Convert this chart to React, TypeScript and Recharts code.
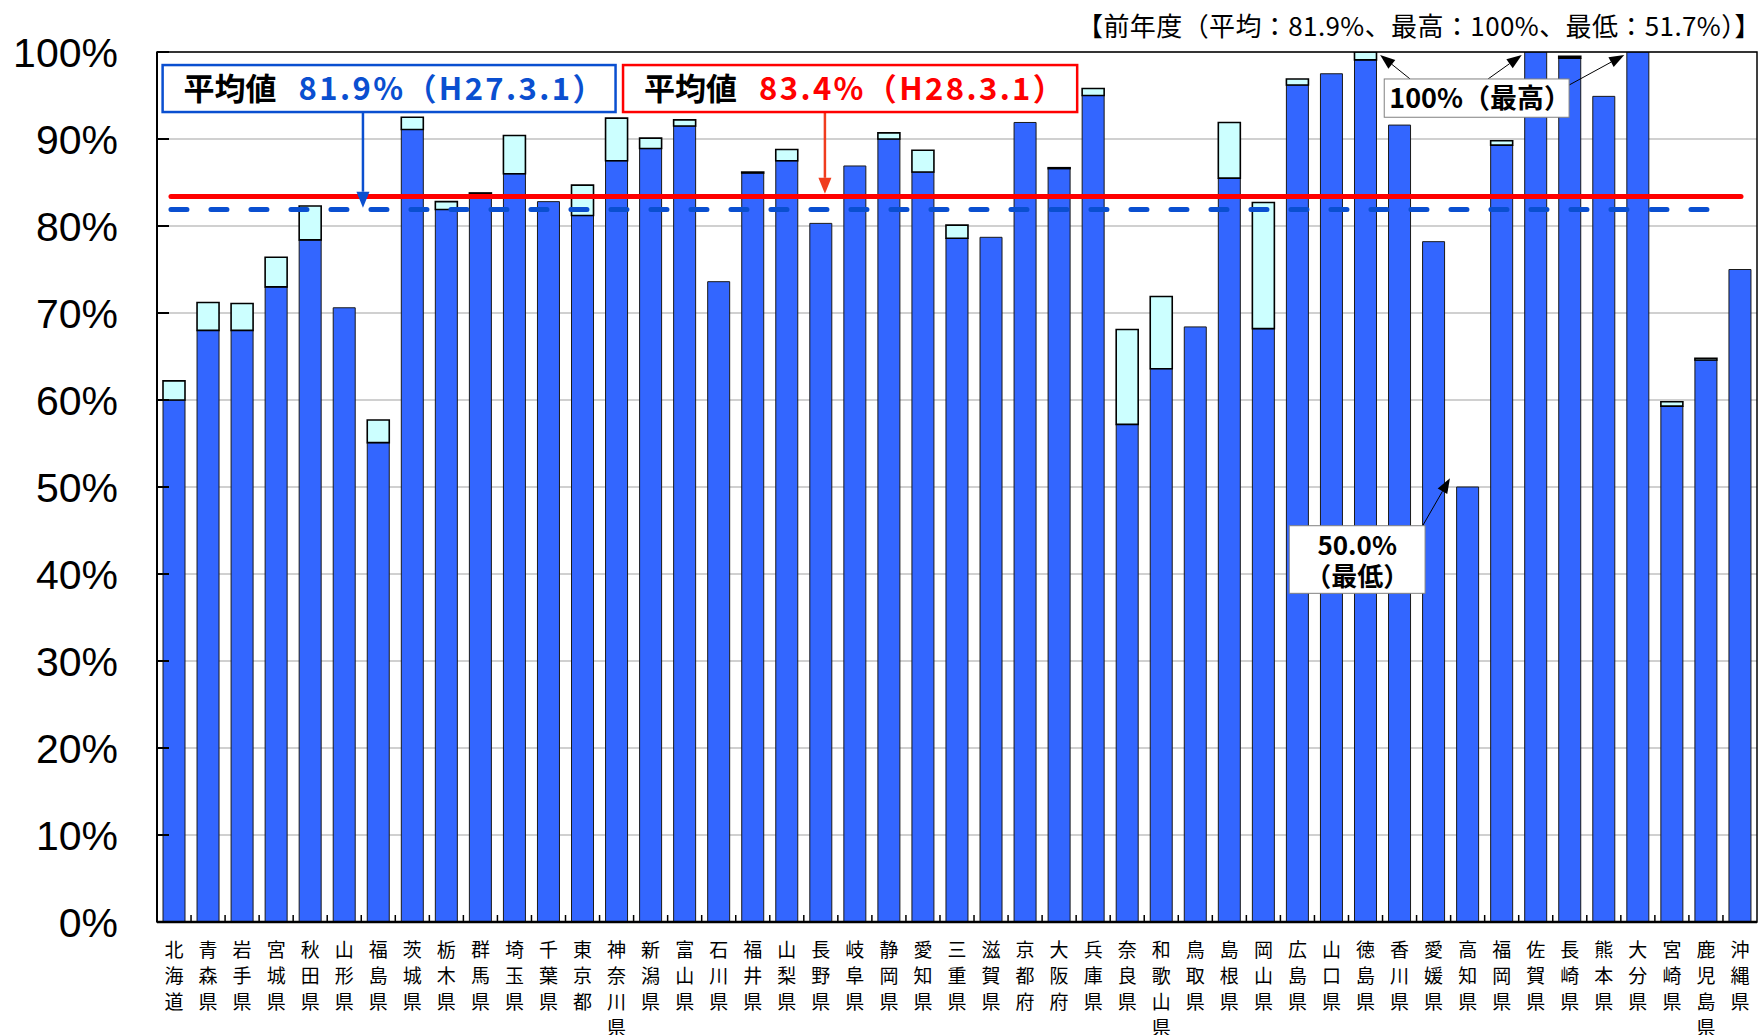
import React from 'react';
import { BarChart, Bar, XAxis, YAxis, CartesianGrid, ReferenceLine } from 'recharts';

const prefectures = [
  '北海道', '青森県', '岩手県', '宮城県', '秋田県', '山形県', '福島県', '茨城県',
  '栃木県', '群馬県', '埼玉県', '千葉県', '東京都', '神奈川県', '新潟県', '富山県',
  '石川県', '福井県', '山梨県', '長野県', '岐阜県', '静岡県', '愛知県', '三重県',
  '滋賀県', '京都府', '大阪府', '兵庫県', '奈良県', '和歌山県', '鳥取県', '島根県',
  '岡山県', '広島県', '山口県', '徳島県', '香川県', '愛媛県', '高知県', '福岡県',
  '佐賀県', '長崎県', '熊本県', '大分県', '宮崎県', '鹿児島県', '沖縄県',
];

// blue part of each bar (%)
const blueValues = [
  60.0, 68.0, 68.0, 73.0, 78.4, 70.6, 55.1, 91.1,
  81.9, 83.7, 86.0, 82.8, 81.2, 87.5, 88.9, 91.5,
  73.6, 86.1, 87.5, 80.3, 86.9, 90.0, 86.2, 78.6,
  78.7, 91.9, 86.6, 95.0, 57.2, 63.6, 68.4, 85.5,
  68.2, 96.2, 97.5, 99.1, 91.6, 78.2, 50.0, 89.3,
  100, 99.3, 94.9, 100, 59.3, 64.6, 75.0,
];

// top of the light cyan part (same as blue where there is none)
const topValues = [
  62.2, 71.2, 71.1, 76.4, 82.3, 70.6, 57.7, 92.5,
  82.8, 83.8, 90.4, 82.8, 84.7, 92.4, 90.1, 92.2,
  73.6, 86.2, 88.8, 80.3, 86.9, 90.7, 88.7, 80.1,
  78.7, 91.9, 86.7, 95.8, 68.1, 71.9, 68.4, 91.9,
  82.7, 96.9, 97.5, 100, 91.6, 78.2, 50.0, 89.8,
  100, 99.5, 94.9, 100, 59.8, 64.8, 75.0,
];

const yTicks = [0, 10, 20, 30, 40, 50, 60, 70, 80, 90, 100];
const avgPrev = 81.9;
const avgNow = 83.4;

const data = prefectures.map((name, i) => ({
  name,
  blue: blueValues[i],
  extra: Math.round((topValues[i] - blueValues[i]) * 10) / 10,
}));

const N = prefectures.length;
const W = 1758;
const H = 1035;
const MARGIN = { top: 52, right: 1, bottom: 3, left: 0 };
const Y_AXIS_W = 157;
const X_AXIS_H = 110;
const PLOT_W = W - MARGIN.left - MARGIN.right - Y_AXIS_W;
const BAND = PLOT_W / N;
const JP = '"Noto Sans CJK JP", "Noto Sans", sans-serif';

function YTick(props: any) {
  const { y, payload } = props;
  const ax = MARGIN.left + Y_AXIS_W;
  return (
    <g>
      <line x1={ax} x2={ax + 12} y1={y} y2={y} stroke="#000" strokeWidth={2} />
      <text
        x={ax - 39}
        y={y}
        dy="0.36em"
        textAnchor="end"
        fontFamily='"Liberation Sans", Arial, sans-serif'
        fontSize={41}
        fill="#000"
      >
        {payload.value}%
      </text>
    </g>
  );
}

function XTick(props: any) {
  const { x, y, payload, index } = props;
  const chars = String(payload.value).split('');
  return (
    <g>
      {index < N - 1 && (
        <line x1={x + BAND / 2} x2={x + BAND / 2} y1={y} y2={y - 7} stroke="#000" strokeWidth={1.5} />
      )}
      <text x={x} y={y + 35} textAnchor="middle" fontFamily={JP} fontSize={19} fill="#000">
        {chars.map((c, i) => (
          <tspan key={i} x={x} dy={i === 0 ? 0 : 26}>
            {c}
          </tspan>
        ))}
      </text>
    </g>
  );
}

// Annotation placed in chart units: u = position across the categories (0 = left edge,
// N = right edge), v = percent. Pixels come from the chart's own scales via a segment
// spanning the first and last category centres.
type Draw = (x1: number, y1: number, x2: number, y2: number) => React.ReactNode;
function annot(key: string, u1: number, v1: number, u2: number, v2: number, draw: Draw) {
  return (
    <ReferenceLine
      key={key}
      segment={[{ x: prefectures[0], y: v1 }, { x: prefectures[N - 1], y: v2 }]}
      ifOverflow="visible"
      shape={(p: any) => {
        const pitch = (p.x2 - p.x1) / (N - 1);
        const left = p.x1 - pitch / 2;
        return draw(left + u1 * pitch, p.y1, left + u2 * pitch, p.y2);
      }}
    />
  );
}

const plain = (color: string, width: number, dash?: string): Draw => (x1, y1, x2, y2) => (
  <line x1={x1} y1={y1} x2={x2} y2={y2} stroke={color} strokeWidth={width} strokeDasharray={dash} strokeLinecap="round" />
);

const arrow = (color: string, width: number, headW: number, headL: number): Draw => (x1, y1, x2, y2) => {
  const a = Math.atan2(y2 - y1, x2 - x1);
  const bx = x2 - headL * Math.cos(a);
  const by = y2 - headL * Math.sin(a);
  const nx = -Math.sin(a) * (headW / 2);
  const ny = Math.cos(a) * (headW / 2);
  return (
    <g>
      <line x1={x1} y1={y1} x2={bx} y2={by} stroke={color} strokeWidth={width} />
      <polygon points={`${x2},${y2} ${bx + nx},${by + ny} ${bx - nx},${by - ny}`} fill={color} />
    </g>
  );
};

type Rect = { x: number; y: number; w: number; h: number };
const box = (border: string, bw: number, fill: string, content?: (r: Rect) => React.ReactNode): Draw =>
  (x1, y1, x2, y2) => {
    const r = { x: Math.min(x1, x2), y: Math.min(y1, y2), w: Math.abs(x2 - x1), h: Math.abs(y2 - y1) };
    return (
      <g>
        <rect x={r.x} y={r.y} width={r.w} height={r.h} fill={fill} stroke={border} strokeWidth={bw} />
        {content && content(r)}
      </g>
    );
  };

const avgText = (color: string, value: string) => (r: Rect) => (
  <text x={r.x + 21} y={r.y + r.h / 2} dy="0.36em" fontFamily={JP} fontWeight="bold" fontSize={31}>
    <tspan fill="#000">平均値</tspan>
    <tspan fill={color} dx={22} letterSpacing={2.4}>{value}</tspan>
  </text>
);

const maxText = (r: Rect) => (
  <text x={r.x + 5} y={r.y + r.h / 2} dy="0.36em" fontFamily={JP} fontWeight="bold" fontSize={27} fill="#000">
    100%（最高）
  </text>
);

const minText = (r: Rect) => {
  const cx = r.x + r.w / 2;
  return (
    <text textAnchor="middle" fontFamily={JP} fontWeight="bold" fontSize={26} fill="#000">
      <tspan x={cx} y={r.y + 29}>50.0%</tspan>
      <tspan x={cx} y={r.y + 60}>（最低）</tspan>
    </text>
  );
};

const BLUE_LINE = '#0a4fd0';

export default function App() {
  return (
    <div style={{ position: 'relative', width: W, height: H, background: '#fff' }}>
      <style>{'body{margin:0;}'}</style>
      <div
        style={{
          position: 'absolute',
          top: 5,
          right: -3,
          fontFamily: JP,
          fontSize: 26,
          letterSpacing: 0.4,
          color: '#000',
          whiteSpace: 'nowrap',
          lineHeight: '40px',
        }}
      >
        【前年度（平均：81.9%、最高：100%、最低：51.7%）】
      </div>
      <BarChart width={W} height={H} data={data} margin={MARGIN} barSize={22}>
        <CartesianGrid vertical={false} stroke="#c0c0c0" strokeWidth={1.5} />
        <XAxis
          dataKey="name"
          interval={0}
          height={X_AXIS_H}
          tickSize={0}
          tickMargin={0}
          tickLine={false}
          axisLine={{ stroke: '#000', strokeWidth: 2.5 }}
          tick={<XTick />}
        />
        <YAxis
          domain={[0, 100]}
          ticks={yTicks}
          width={Y_AXIS_W}
          tickSize={0}
          tickMargin={0}
          tickLine={false}
          axisLine={{ stroke: '#000', strokeWidth: 2 }}
          tick={<YTick />}
          allowDataOverflow
        />
        <Bar dataKey="blue" stackId="a" fill="#3366ff" stroke="#1a1a1a" strokeWidth={1} isAnimationActive={false} />
        <Bar dataKey="extra" stackId="a" fill="#ccffff" stroke="#000" strokeWidth={1.6} isAnimationActive={false} />

        {annot('frame', 0, 100, N, 0, box('#000', 1.5, 'none'))}

        {annot('avgPrev', 0.41, avgPrev, 46.15, avgPrev, plain(BLUE_LINE, 5, '16 24'))}
        {annot('avgNow', 0.41, avgNow, 46.53, avgNow, plain('#ff0000', 5))}

        {annot('prevArrow', 6.05, 93.1, 6.05, 82.1, arrow(BLUE_LINE, 2.5, 13, 16))}
        {annot('prevBox', 0.165, 98.5, 13.47, 93.1, box(BLUE_LINE, 2.5, '#fff', avgText(BLUE_LINE, '81.9%（H27.3.1）')))}
        {annot('nowArrow', 19.62, 93.1, 19.62, 83.7, arrow('#f03c1e', 2.5, 13, 16))}
        {annot('nowBox', 13.69, 98.5, 27.03, 93.1, box('#ff0000', 2.5, '#fff', avgText('#ff0000', '83.4%（H28.3.1）')))}

        {annot('maxA1', 36.81, 96.9, 35.93, 99.66, arrow('#000', 1, 11, 15))}
        {annot('maxA2', 39.1, 96.9, 40.09, 99.66, arrow('#000', 1, 11, 15))}
        {annot('maxA3', 41.48, 96.2, 43.1, 99.66, arrow('#000', 1, 11, 15))}
        {annot('maxBox', 36.05, 96.9, 41.48, 92.5, box('#808080', 1, '#fff', maxText))}

        {annot('minA', 37.18, 45.55, 37.98, 51.0, arrow('#000', 1, 11, 15))}
        {annot('minBox', 33.26, 45.55, 37.25, 37.78, box('#808080', 1, '#fff', minText))}
      </BarChart>
    </div>
  );
}
